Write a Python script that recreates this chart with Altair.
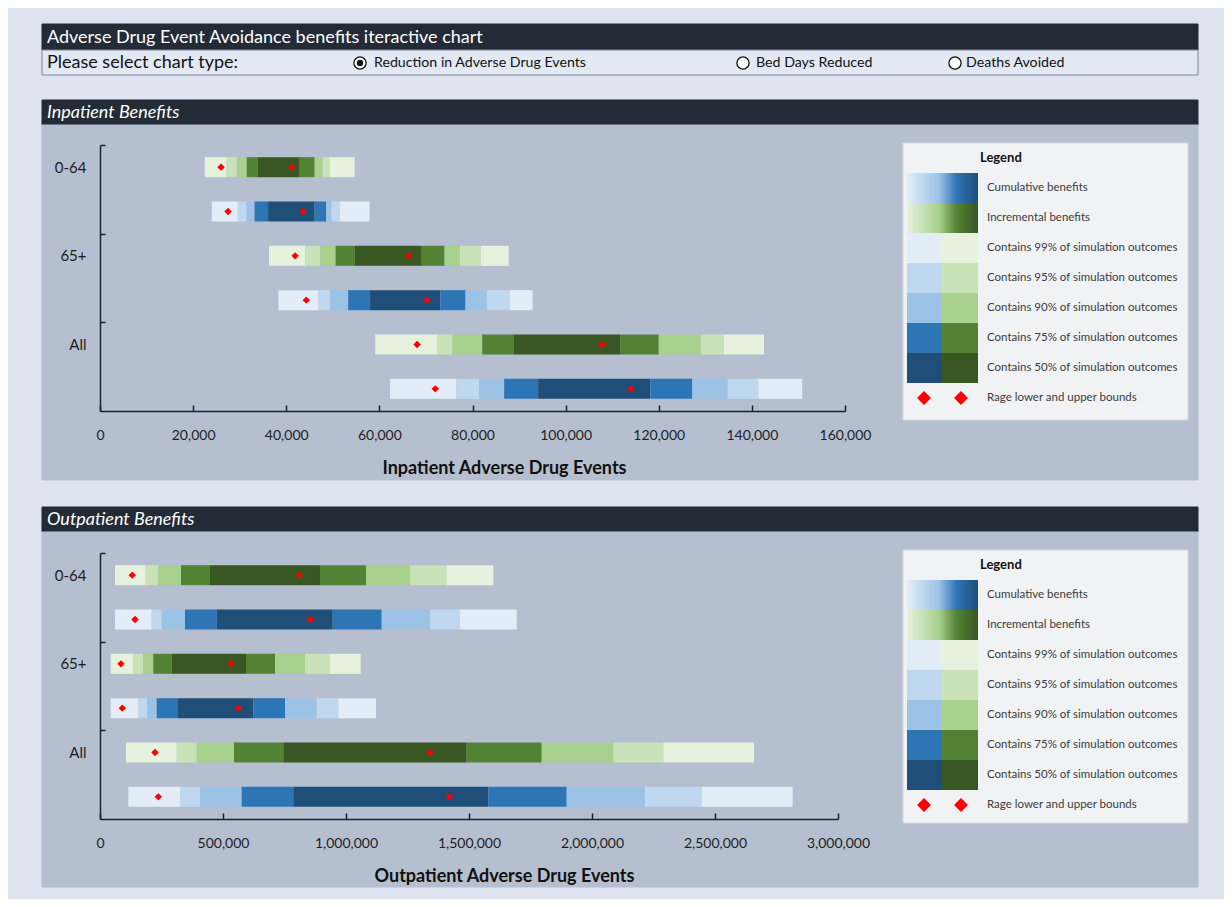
import altair as alt
import pandas as pd

# ------------------------------------------------------------------ data
GROUP_LABELS = ["0-64", "65+", "All"]
ROW_KINDS = ["Incremental", "Cumulative", "Incremental", "Cumulative", "Incremental", "Cumulative"]
# colour band between successive bounds (outer -> inner -> outer)
BAND_LEVELS = ["99%", "95%", "90%", "75%", "50%", "75%", "90%", "95%", "99%"]

# Inpatient adverse drug events: band bounds for each bar (top to bottom)
in_0_64_incremental = [22500, 27200, 29400, 31500, 33900, 42900, 46100, 47800, 49300, 54700]
in_0_64_cumulative = [24000, 29600, 31500, 33200, 36100, 46100, 48600, 49700, 51500, 57900]
in_65_incremental = [36300, 44100, 47300, 50600, 54700, 69100, 74000, 77300, 81800, 87800]
in_65_cumulative = [38300, 46900, 49400, 53300, 58000, 73100, 78500, 83100, 88000, 92900]
in_all_incremental = [59100, 72400, 75700, 82100, 88800, 111800, 120000, 129000, 134000, 142600]
in_all_cumulative = [62300, 76500, 81400, 86800, 94100, 118200, 127200, 134800, 141400, 150800]
in_range_lower = [26000, 27500, 41900, 44300, 68100, 72000]
in_range_upper = [41200, 43600, 66300, 70200, 107800, 114000]
in_ticks = [0, 20000, 40000, 60000, 80000, 100000, 120000, 140000, 160000]

# Outpatient adverse drug events
out_0_64_incremental = [61000, 182900, 237000, 329300, 447200, 894300, 1081300, 1260200, 1409300, 1598800]
out_0_64_cumulative = [61000, 210200, 250800, 345500, 474400, 945900, 1145100, 1341500, 1463400, 1693900]
out_65_incremental = [43500, 135400, 174800, 216700, 291500, 593500, 711400, 833300, 935000, 1059700]
out_65_cumulative = [43500, 155700, 191100, 230500, 314200, 623200, 752000, 880900, 968700, 1121900]
out_all_incremental = [105700, 311800, 393100, 544700, 745100, 1490600, 1795500, 2086600, 2289800, 2658500]
out_all_cumulative = [115000, 325200, 406500, 576000, 785800, 1578400, 1897100, 2215400, 2445900, 2815800]
out_range_lower = [131300, 142300, 85400, 90700, 223600, 237000]
out_range_upper = [808900, 853700, 532500, 562200, 1341500, 1419900]
out_ticks = [0, 500000, 1000000, 1500000, 2000000, 2500000, 3000000]

IN_ROWS = [in_0_64_incremental, in_0_64_cumulative, in_65_incremental,
           in_65_cumulative, in_all_incremental, in_all_cumulative]
OUT_ROWS = [out_0_64_incremental, out_0_64_cumulative, out_65_incremental,
            out_65_cumulative, out_all_incremental, out_all_cumulative]

TITLE = "Adverse Drug Event Avoidance benefits iteractive chart"
PROMPT = "Please select chart type:"
CHOICES = ["Reduction in Adverse Drug Events", "Bed Days Reduced", "Deaths Avoided"]
SELECTED = "Reduction in Adverse Drug Events"
PANEL_TITLES = ["Inpatient Benefits", "Outpatient Benefits"]
AXIS_TITLES = ["Inpatient Adverse Drug Events", "Outpatient Adverse Drug Events"]
LEGEND_TITLE = "Legend"
LEGEND_ITEMS = ["Cumulative benefits", "Incremental benefits",
                "Contains 99% of simulation outcomes", "Contains 95% of simulation outcomes",
                "Contains 90% of simulation outcomes", "Contains 75% of simulation outcomes",
                "Contains 50% of simulation outcomes", "Rage lower and upper bounds"]
LEGEND_LEVELS = ["99%", "95%", "90%", "75%", "50%"]

# ------------------------------------------------------------------ style
FONT = "Lato"
BG = "#dde4ef"
DARK = "#232b37"
PANEL = "#b5bfcf"
SELECT_BG = "#e3e9f3"
LEGEND_BG = "#f1f2f4"
AXIS_COLOR = "#1b2330"
TEXT = "#1e1e1e"
BLUE = {"99%": "#e2edf8", "95%": "#c0d8ef", "90%": "#9cc3e6", "75%": "#2e75b6", "50%": "#1f4e79"}
GREEN = {"99%": "#e6f1de", "95%": "#c9e2b8", "90%": "#a9d18e", "75%": "#548235", "50%": "#385723"}

# ------------------------------------------------------------------ layout (px)
W, H = 1216, 891
PLOT_LEFT = 92
BAR_HALF = 0.226
PANELS = [
    dict(rows=IN_ROWS, lower=in_range_lower, upper=in_range_upper, ticks=in_ticks,
         xmax=160000, xr=[92, 837], yr=[137, 403], title=AXIS_TITLES[0], title_y=460, shift=0),
    dict(rows=OUT_ROWS, lower=out_range_lower, upper=out_range_upper, ticks=out_ticks,
         xmax=3000000, xr=[92, 830], yr=[545, 811], title=AXIS_TITLES[1], title_y=868, shift=407),
]
AXIS_TITLE_X = 496


def xpix(f):
    return alt.X(f"{f}:Q", scale=None, axis=None)


def ypix(f):
    return alt.Y(f"{f}:Q", scale=None, axis=None)


layers = []

# ---- decorative frame -------------------------------------------------
deco = pd.DataFrame([
    dict(x=34, x2=1190, y=16, y2=42, fill=DARK, stroke=DARK),
    dict(x=34, x2=1190, y=42, y2=67, fill=SELECT_BG, stroke="#7d8697"),
    dict(x=34, x2=1190, y=92, y2=117, fill=DARK, stroke=DARK),
    dict(x=34, x2=1190, y=117, y2=472, fill=PANEL, stroke=PANEL),
    dict(x=34, x2=1190, y=499, y2=524, fill=DARK, stroke=DARK),
    dict(x=34, x2=1190, y=524, y2=879, fill=PANEL, stroke=PANEL),
    dict(x=895, x2=1180, y=135, y2=412, fill=LEGEND_BG, stroke="#d4d8de"),
    dict(x=895, x2=1180, y=542, y2=815, fill=LEGEND_BG, stroke="#d4d8de"),
])
layers.append(
    alt.Chart(deco).mark_rect(strokeWidth=1).encode(
        x=xpix("x"), x2="x2", y=ypix("y"), y2="y2",
        fill=alt.Fill("fill:N", scale=None, legend=None),
        stroke=alt.Stroke("stroke:N", scale=None, legend=None),
    )
)

# ---- legends ----------------------------------------------------------
LEG_X0, LEG_XM, LEG_X1 = 899, 934, 970
LEG_ROW0, LEG_STEP = 165, 30
sw = []
grad = []
ltext = []
ldia = []
ltitle = []
for p in PANELS:
    s = p["shift"]
    for k, lev in enumerate(LEGEND_LEVELS):
        y0 = LEG_ROW0 + (k + 2) * LEG_STEP + s
        sw.append(dict(x=LEG_X0, x2=LEG_XM, y=y0, y2=y0 + LEG_STEP, fill=BLUE[lev]))
        sw.append(dict(x=LEG_XM, x2=LEG_X1, y=y0, y2=y0 + LEG_STEP, fill=GREEN[lev]))
    for k, lab in enumerate(LEGEND_ITEMS):
        ltext.append(dict(x=979, y=LEG_ROW0 + LEG_STEP / 2 + k * LEG_STEP + s, text=lab))
    yd = LEG_ROW0 + LEG_STEP / 2 + 7 * LEG_STEP + s
    ldia += [dict(x=916, y=yd), dict(x=953, y=yd)]
    ltitle.append(dict(x=972, y=150 + s, text=LEGEND_TITLE))
    grad.append(dict(x=LEG_X0, x2=LEG_X1, y=LEG_ROW0 + s, y2=LEG_ROW0 + LEG_STEP + s, kind="Cumulative"))
    grad.append(dict(x=LEG_X0, x2=LEG_X1, y=LEG_ROW0 + LEG_STEP + s, y2=LEG_ROW0 + 2 * LEG_STEP + s, kind="Incremental"))

layers.append(
    alt.Chart(pd.DataFrame(sw)).mark_rect().encode(
        x=xpix("x"), x2="x2", y=ypix("y"), y2="y2",
        fill=alt.Fill("fill:N", scale=None, legend=None),
    )
)
grad_df = pd.DataFrame(grad)
for kind, pal in [("Cumulative", BLUE), ("Incremental", GREEN)]:
    g = alt.Gradient(
        gradient="linear", x1=0, x2=1, y1=0, y2=0,
        stops=[alt.GradientStop(offset=0, color=pal["99%"]),
               alt.GradientStop(offset=0.45, color=pal["90%"]),
               alt.GradientStop(offset=0.7, color=pal["75%"]),
               alt.GradientStop(offset=1, color=pal["50%"])],
    )
    layers.append(
        alt.Chart(grad_df).transform_filter(alt.datum.kind == kind).mark_rect(color=g).encode(
            x=xpix("x"), x2="x2", y=ypix("y"), y2="y2",
        )
    )
layers.append(
    alt.Chart(pd.DataFrame(ldia)).mark_point(shape="diamond", filled=True, color="#ff0000",
                                            size=190, opacity=1).encode(x=xpix("x"), y=ypix("y"))
)
layers.append(
    alt.Chart(pd.DataFrame(ltext)).mark_text(align="left", baseline="middle", font=FONT,
                                            fontSize=11.5, color="#3b3b3b").encode(
        x=xpix("x"), y=ypix("y"), text="text:N")
)
layers.append(
    alt.Chart(pd.DataFrame(ltitle)).mark_text(align="left", baseline="middle", font=FONT,
                                             fontSize=13, fontWeight="bold", color="#111111").encode(
        x=xpix("x"), y=ypix("y"), text="text:N")
)

# ---- data panels ------------------------------------------------------
# group labels sit level with the first bar of each pair (rows 0, 2, 4)
label_expr = (f"datum.value < 2 ? '{GROUP_LABELS[0]}' : datum.value < 4 ? "
              f"'{GROUP_LABELS[1]}' : '{GROUP_LABELS[2]}'")

for p in PANELS:
    recs = []
    for i, b in enumerate(p["rows"]):
        pal = GREEN if ROW_KINDS[i] == "Incremental" else BLUE
        for j, lev in enumerate(BAND_LEVELS):
            recs.append(dict(row=i, kind=ROW_KINDS[i], group=GROUP_LABELS[i // 2], level=lev,
                             start=b[j], end=b[j + 1], fill=pal[lev],
                             y0=i + 0.5 - BAR_HALF, y1=i + 0.5 + BAR_HALF))
    seg = pd.DataFrame(recs)
    dia = pd.DataFrame(
        [dict(row=i, value=v, pos=i + 0.5) for i, v in enumerate(p["lower"])]
        + [dict(row=i, value=v, pos=i + 0.5) for i, v in enumerate(p["upper"])]
    )
    xs = alt.Scale(domain=[0, p["xmax"]], range=p["xr"], nice=False, zero=False)
    ys = alt.Scale(domain=[0, 6], range=p["yr"], nice=False, zero=False)
    ybot = p["yr"][1]

    bars = alt.Chart(seg).mark_rect(strokeWidth=0).encode(
        x=alt.X("start:Q", scale=xs, axis=alt.Axis(
            orient="bottom", offset=-(H - ybot), values=p["ticks"], format=",.0f",
            ticks=False, tickSize=0, labelPadding=17, labelFont=FONT, labelFontSize=14,
            labelColor=TEXT, labelFlush=False, labelOverlap=False,
            domainColor=AXIS_COLOR, domainWidth=1.5, grid=False, zindex=2,
            title=p["title"], titleFont=FONT, titleFontSize=18, titleFontWeight="bold",
            titleColor="#111111", titleX=AXIS_TITLE_X, titleY=p["title_y"] - ybot,
            titleAlign="center", titleBaseline="middle")),
        x2="end:Q",
        y=alt.Y("y0:Q", scale=ys, axis=alt.Axis(
            orient="left", offset=-PLOT_LEFT, values=[0.5, 2.5, 4.5], labelExpr=label_expr,
            ticks=False, tickSize=0, labelPadding=14, labelFont=FONT, labelFontSize=15,
            labelColor=TEXT, domainColor=AXIS_COLOR, domainWidth=1.5, grid=False,
            zindex=2, title=None)),
        y2="y1:Q",
        fill=alt.Fill("fill:N", scale=None, legend=None),
        tooltip=["group:N", "kind:N", "level:N", "start:Q", "end:Q"],
    )
    diamonds = alt.Chart(dia).mark_point(shape="diamond", filled=True, color="#ff0000",
                                        size=55, opacity=1).encode(
        x=alt.X("value:Q", scale=xs, axis=alt.Axis(
            orient="top", offset=-ybot, values=p["ticks"], labels=False, domain=False,
            ticks=True, tickSize=6, tickWidth=1.5, tickColor=AXIS_COLOR, grid=False,
            zindex=2, title=None)),
        y=alt.Y("pos:Q", scale=ys, axis=alt.Axis(
            orient="right", offset=-(W - PLOT_LEFT), values=[0, 2, 4], labels=False,
            domain=False, ticks=True, tickSize=5, tickWidth=1.5, tickColor=AXIS_COLOR,
            grid=False, zindex=2, title=None)),
    )
    layers += [bars, diamonds]

# ---- header texts -----------------------------------------------------
def text_layer(rows, **kw):
    return alt.Chart(pd.DataFrame(rows)).mark_text(align="left", baseline="middle", font=FONT, **kw).encode(
        x=xpix("x"), y=ypix("y"), text="text:N")


layers.append(text_layer([dict(x=39, y=30, text=TITLE)], fontSize=18, color="#ffffff"))
layers.append(text_layer([dict(x=39, y=55, text=PROMPT)], fontSize=18, color="#111111"))
layers.append(text_layer([dict(x=39, y=105, text=PANEL_TITLES[0]),
                          dict(x=39, y=512, text=PANEL_TITLES[1])],
                         fontSize=18, fontStyle="italic", color="#ffffff"))

radio = pd.DataFrame(dict(text=CHOICES, cx=[352, 735, 947], x=[366, 748, 958], y=[55, 55, 55],
                          selected=[c == SELECTED for c in CHOICES]))
layers.append(
    alt.Chart(radio).mark_point(shape="circle", filled=True, fill="#ffffff", stroke="#111111",
                                strokeWidth=1.3, size=150, opacity=1).encode(x=xpix("cx"), y=ypix("y"))
)
layers.append(
    alt.Chart(radio).transform_filter(alt.datum.selected).mark_point(
        shape="circle", filled=True, color="#111111", size=40, opacity=1).encode(x=xpix("cx"), y=ypix("y"))
)
layers.append(
    alt.Chart(radio).mark_text(align="left", baseline="middle", font=FONT, fontSize=14.2,
                               color="#111111").encode(x=xpix("x"), y=ypix("y"), text="text:N")
)

chart = (
    alt.layer(*layers)
    .resolve_scale(x="independent", y="independent")
    .properties(width=W, height=H, background=BG, padding=0,
                autosize=alt.AutoSizeParams(type="none"))
    .configure_view(stroke=None)
)

chart.save("out.html", embed_options={"renderer": "svg", "actions": False})
